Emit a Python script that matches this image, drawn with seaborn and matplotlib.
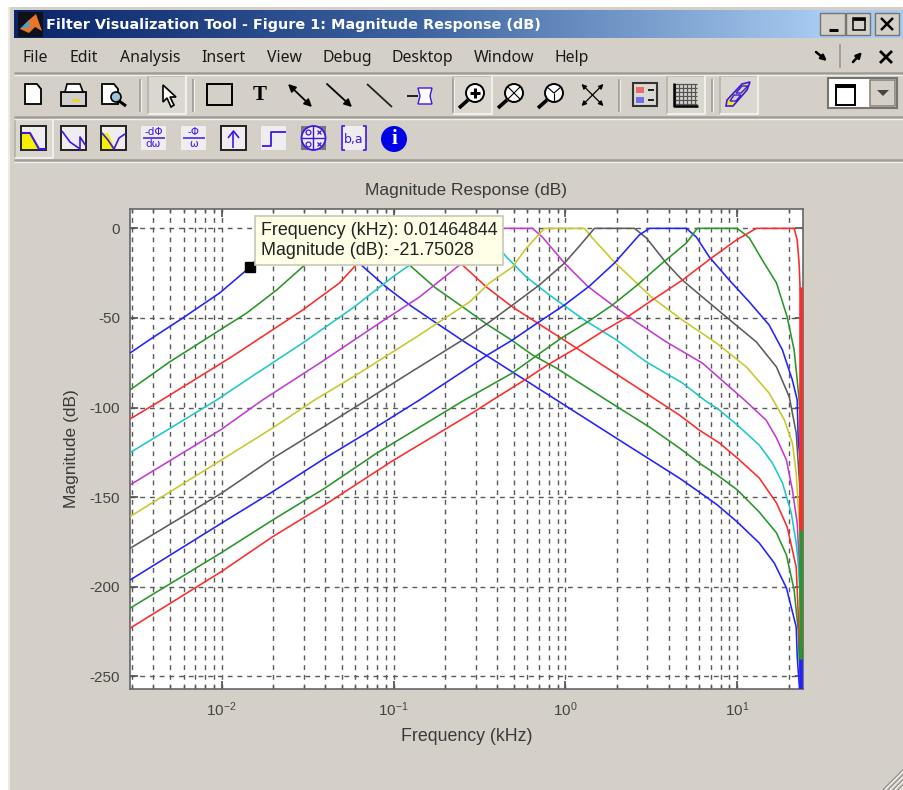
import numpy as np
import pandas as pd
import matplotlib
matplotlib.use('Agg')
import matplotlib.pyplot as plt
import seaborn as sns
from matplotlib.colors import LinearSegmentedColormap
from matplotlib.patches import Rectangle, Polygon, Circle

# values, frequency in kHz, magnitude in dB
band1_f = [0.00293, 0.00397, 0.00593, 0.00973, 0.01397, 0.01465, 0.0178, 0.02355, 0.0392, 0.0425, 0.0519, 0.0649, 0.0907, 0.1268, 0.177, 0.265, 0.352, 0.472, 0.887, 2.06, 4.6, 6.01, 7.65, 10, 13.4, 16.4, 19.3, 22.0, 22.3, 23.0]
band1_db = [-69.6, -61, -50.1, -36.1, -23.3, -21.75, -11, 0, 0, -1.5, -11, -20.5, -32.8, -43.4, -52.8, -64, -71.3, -79.1, -95.8, -118.2, -139.4, -147.2, -154.4, -163.9, -175.6, -186.8, -200.7, -222.5, -239, -257]
band2_f = [0.00293, 0.00499, 0.00935, 0.01397, 0.0209, 0.0304, 0.0381, 0.0472, 0.0786, 0.0851, 0.1014, 0.1239, 0.173, 0.2485, 0.3475, 0.485, 0.643, 0.887, 1.73, 3.08, 4.6, 6.01, 7.65, 10, 13.4, 16.9, 19.3, 21.4, 22.6, 22.9, 23.3]
band2_db = [-90.2, -74.5, -57.9, -47.3, -34.4, -20.5, -10.4, 0, 0, -2, -11, -20.5, -32.8, -43.4, -53.4, -62.3, -70.7, -78, -95.8, -110.9, -122.6, -131, -137.7, -146, -158.3, -170, -182.3, -201.8, -224.2, -240.9, -250]
band3_f = [0.00293, 0.00436, 0.01113, 0.0296, 0.0485, 0.0618, 0.0786, 0.0948, 0.1577, 0.171, 0.203, 0.252, 0.3475, 0.492, 0.687, 0.923, 1.158, 1.64, 3.38, 4.6, 6.01, 7.86, 10, 13.4, 16.9, 19.5, 22.0, 22.6, 22.9, 23.3]
band3_db = [-106.4, -96.5, -72.4, -45.6, -30.5, -19.4, -9.3, 0, 0, -2, -11, -20.5, -32.8, -43.9, -52.8, -60.7, -66.8, -76.3, -95.8, -104.2, -112.6, -119.8, -128.2, -139.3, -153.3, -166.7, -189, -214.7, -229.7, -240]
band4_f = [0.00293, 0.00935, 0.01455, 0.0296, 0.0578, 0.0986, 0.1239, 0.1535, 0.1875, 0.316, 0.343, 0.397, 0.454, 0.593, 0.807, 1.289, 1.98, 2.96, 4.79, 6.43, 7.86, 10, 13.4, 16, 18.3, 20.6, 22, 22.6, 23.3]
band4_db = [-125.2, -95.8, -83.5, -64, -44.5, -27.2, -20.5, -10.4, 0, 0, -2, -9.3, -16, -27.2, -37.2, -51.2, -62.3, -74.6, -86.3, -95.8, -101.4, -109.8, -120.9, -131, -142.1, -158.9, -175.6, -186.8, -210]
band5_f = [0.00293, 0.00996, 0.0173, 0.0372, 0.083, 0.1416, 0.242, 0.3, 0.3664, 0.643, 0.735, 0.987, 1.342, 1.876, 2.587, 3.865, 6.26, 11, 14.7, 16.9, 19.3, 20.9, 22.3, 22.6, 23.3]
band5_db = [-143.2, -112.2, -95.8, -75.2, -52.8, -38.3, -20.5, -10.4, 0, 0, -4.9, -19.4, -32.2, -42.8, -52.3, -63.4, -75.2, -95.8, -107, -117, -129.3, -146, -164.5, -175.6, -195]
band6_f = [0.00293, 0.00996, 0.0198, 0.03475, 0.0634, 0.1416, 0.2767, 0.3614, 0.492, 0.593, 0.755, 1.289, 1.435, 1.927, 3.16, 4.79, 7.55, 11.3, 15.3, 18.8, 20.9, 22, 22.6, 23.3]
band6_db = [-160.9, -129.3, -111.4, -95.8, -80.7, -59.5, -41.1, -30.5, -21.6, -11, 0, 0, -5.4, -18.8, -38.3, -51.2, -64, -77.4, -91.9, -107, -119.8, -136.6, -155.5, -175]
band7_f = [0.00293, 0.00996, 0.0198, 0.038, 0.0697, 0.1239, 0.252, 0.3614, 0.492, 0.706, 0.987, 1.206, 1.475, 2.52, 2.96, 3.865, 4.79, 6.26, 8.63, 12.9, 16.9, 20.05, 22, 22.6, 23.3]
band7_db = [-178.6, -147.9, -128.4, -111.6, -95.8, -80.7, -62.3, -52.3, -42.8, -31.6, -19.4, -9.9, 0, 0, -5.4, -19.4, -28.9, -38.3, -49.5, -63.4, -77.4, -94.1, -114.2, -131, -150]
band8_f = [0.00293, 0.00996, 0.0198, 0.0397, 0.0742, 0.1416, 0.2767, 0.352, 0.492, 0.687, 0.987, 1.38, 1.927, 2.69, 3.08, 5.05, 5.78, 6.87, 8.98, 11.75, 15.3, 18.3, 20.9, 22.3, 22.6, 23.3]
band8_db = [-196.3, -164.6, -147, -128.4, -112.6, -95.8, -77.4, -70.7, -62.3, -52.8, -42.8, -32.2, -19.4, -3.7, 0, 0, -4.9, -16, -28.9, -41.1, -53.9, -67.9, -84.7, -95.8, -118, -131]
band9_f = [0.00293, 0.00996, 0.0198, 0.0397, 0.0794, 0.2587, 0.492, 0.687, 0.948, 1.342, 1.876, 2.62, 3.66, 5.05, 5.85, 10, 11.75, 13.97, 16.9, 19.5, 21.4, 22.9, 23.3]
band9_db = [-212, -181, -162.8, -145.1, -125.6, -95.8, -80.7, -70.7, -61.2, -52.3, -42.8, -31.6, -19.4, -8.2, 0, 0, -5.4, -17.7, -30.5, -49.5, -67.9, -95.8, -110]
band10_f = [0.00293, 0.00996, 0.0198, 0.0397, 0.097, 0.2958, 0.3767, 0.578, 0.785, 1.158, 1.62, 2.29, 3.2, 4.79, 7.06, 9.87, 12.9, 21.4, 22.3, 22.9, 23.2]
band10_db = [-223.2, -191.6, -172.1, -154.4, -130.2, -102.3, -95.8, -84.7, -76.3, -66.8, -57.9, -49.5, -40, -28.9, -16.6, -6.5, 0, 0, -6.5, -20.5, -34.4]

# the steep drop at the top of the band piles up against the right edge
edge_f = [23.6, 23.6, 23.6, 23.6, 23.6, 23.6]
edge_db = [-235, -257, -96, -240, -34, -168]
edge_band = [1, 1, 9, 9, 10, 10]

band_fs = [band1_f, band2_f, band3_f, band4_f, band5_f, band6_f, band7_f, band8_f, band9_f, band10_f]
band_dbs = [band1_db, band2_db, band3_db, band4_db, band5_db, band6_db, band7_db, band8_db, band9_db, band10_db]
colors = ['#2222ff', '#289628', '#ff2a2a', '#1cc8c8', '#c23ad2', '#c8c828', '#5c5c5c', '#2222ff', '#289628', '#ff2a2a']

ytick_vals = [0, -50, -100, -150, -200, -250]
ytick_labels = ['0', '-50', '-100', '-150', '-200', '-250']
menu_items = [('File', 23), ('Edit', 70), ('Analysis', 120), ('Insert', 201), ('View', 267),
              ('Debug', 323), ('Desktop', 392), ('Window', 474), ('Help', 555)]

rows = []
for i in range(10):
    rows.append(pd.DataFrame({'f': band_fs[i], 'db': band_dbs[i], 'band': i + 1}))
df = pd.concat(rows)
edge = pd.DataFrame({'f': edge_f, 'db': edge_db, 'band': edge_band})

sns.set_theme(style='ticks')
plt.rcParams['font.family'] = ['Liberation Sans', 'DejaVu Sans']
plt.rcParams['mathtext.default'] = 'regular'
plt.rcParams['axes.unicode_minus'] = False

BG = '#D4D0C8'
INK = '#3a3a3a'
PURPLE = '#3C18E8'

fig = plt.figure(figsize=(9.04, 7.9), dpi=100, facecolor='white')

# window chrome, drawn in pixel coordinates
ch = fig.add_axes([0, 0, 1, 1], zorder=0)
ch.axis('off')

def rect(x0, y0, x1, y1, fc='none', ec='none', lw=1.0, z=2):
    ch.add_patch(Rectangle((x0, y0), x1 - x0, y1 - y0, facecolor=fc, edgecolor=ec, linewidth=lw, zorder=z))

def line(xs, ys, c='black', lw=1.5, z=3):
    ch.plot(xs, ys, color=c, lw=lw, zorder=z, solid_capstyle='butt')

def poly(pts, fc='none', ec='black', lw=1.0, z=3):
    ch.add_patch(Polygon(pts, closed=True, facecolor=fc, edgecolor=ec, linewidth=lw, zorder=z))

def button(x0, y0, x1, y1):
    rect(x0, y0, x1, y1, fc='#DAD7CF', z=1.5)
    line([x0, x0, x1], [y1, y0, y0], c='#B4B1AA', lw=1.2, z=1.6)
    line([x0, x1, x1], [y1, y1, y0], c='#F6F5F2', lw=1.2, z=1.6)

def glass(cx, cy, kind):
    ch.add_patch(Circle((cx, cy), 9, facecolor='white', edgecolor='black', lw=1.4, zorder=3))
    line([cx - 7, cx - 16], [cy + 7, cy + 15], lw=2.6)
    if kind == 'plus':
        line([cx - 5, cx + 5], [cy, cy], lw=2.2)
        line([cx, cx], [cy - 5, cy + 5], lw=2.2)
    elif kind == 'x':
        line([cx - 6, cx + 6], [cy - 6, cy + 6], lw=0.8)
        line([cx - 6, cx + 6], [cy + 6, cy - 6], lw=0.8)
    else:
        line([cx, cx], [cy, cy + 9], lw=0.8)
        line([cx, cx - 7], [cy, cy - 6], lw=0.8)
        line([cx, cx + 7], [cy, cy - 6], lw=0.8)

def arrow(x0, y0, x1, y1, both=False, size=10, lw=1.3):
    ch.annotate('', xy=(x1, y1), xytext=(x0, y0), zorder=3,
                arrowprops=dict(arrowstyle='<|-|>' if both else '-|>', color='black', lw=lw, mutation_scale=size, shrinkA=0, shrinkB=0))

rect(9, 7, 904, 790, fc=BG, z=0.5)
line([9.5, 9.5], [7, 790], c='#ECEAE5', lw=1.5)
grad = np.linspace(0, 1, 256).reshape(1, -1)
title_cmap = LinearSegmentedColormap.from_list('tb', ['#0A246A', '#3C639F', '#A6CAF0'])
ch.imshow(grad, extent=(14, 820, 38, 10), aspect='auto', cmap=title_cmap, zorder=1)
rect(820, 10, 903, 38, fc='#A6CAF0', z=1)

# title bar logo and caption
rect(18, 12, 43, 37, fc='#101018', z=2)
poly([(20, 29), (29, 20), (36, 14), (42, 31), (35, 27), (29, 33)], fc='#E8762A', ec='none')
poly([(20, 29), (29, 20), (29, 27)], fc='#3FA7D6', ec='none')
ch.text(46, 24.5, 'Filter Visualization Tool - Figure 1: Magnitude Response (dB)', color='white',
        fontsize=10.4, fontweight='bold', family=['DejaVu Sans'], va='center', ha='left', zorder=3)
for x0, x1 in [(820, 845), (846, 870), (875, 899)]:
    rect(x0, 13, x1, 35, fc=BG, ec='#77756f', lw=1, z=2)
line([829, 838], [30, 30], lw=2.2)
rect(853, 18, 865, 30, ec='black', lw=1.1, z=3)
line([853, 865], [19, 19], lw=2)
line([881, 893], [18, 30], lw=1.8)
line([881, 893], [30, 18], lw=1.8)

# menu bar
for name, x in menu_items:
    ch.text(x, 58, name, fontsize=11.4, family=['Noto Sans', 'DejaVu Sans'], color='#1a1a1a', va='center', ha='left', zorder=3)
arrow(816, 52, 827, 61, size=8, lw=1.8)
line([840, 840], [44, 68], c='#9a9890', lw=1.2)
arrow(853, 62, 862, 52, size=8, lw=1.8)
line([880, 892], [51, 63], lw=2)
line([880, 892], [63, 51], lw=2)

# separators between the bars
for y in [73, 117, 160]:
    line([14, 904], [y, y], c='#9E9C96', lw=1.8)
    line([14, 904], [y + 2, y + 2], c='#F2F1EC', lw=1)

# first toolbar
for x in [140, 193, 453, 619, 712]:
    line([x, x], [79, 112], c='#A5A39D', lw=1.4)
    line([x + 1.5, x + 1.5], [79, 112], c='#F2F1EC', lw=0.8)
for box in [(148, 76, 186, 114), (453, 76, 492, 114), (667, 76, 705, 114), (720, 76, 758, 114)]:
    button(*box)
poly([(25, 84), (37, 84), (41, 89), (41, 104), (25, 104)], fc='white', lw=1.3)
rect(61, 92, 86, 106, fc='#CFCFCF', ec='black', lw=1.3, z=3)
poly([(67, 84), (80, 84), (83, 92), (65, 92)], fc='white', lw=1.2, z=4)
rect(72, 99, 80, 102, fc='#E8D820', z=4)
poly([(102, 84), (114, 84), (118, 89), (118, 104), (102, 104)], fc='white', lw=1.3)
ch.add_patch(Circle((116, 97), 5, facecolor='#9CC4D8', edgecolor='black', lw=1.2, zorder=4))
line([119, 126], [101, 106], lw=2.2, z=4)
poly([(163, 85), (163, 102), (167, 98), (171, 107), (174, 105), (170, 97), (176, 97)], fc='white', lw=1.2)
rect(207, 84, 232, 105, fc='none', ec='black', lw=1.4, z=3)
ch.text(260, 95, 'T', fontsize=15, fontweight='bold', family=['Liberation Serif', 'DejaVu Serif'], va='center', ha='center', color='black', zorder=3)
arrow(288, 84, 312, 107, both=True, size=11)
arrow(327, 84, 352, 107, size=11)
line([367, 392], [84, 107], c='#222222', lw=1.3)
line([407, 418], [96, 96], lw=1.2)
poly([(418, 88), (432, 88), (430, 96), (432, 104), (418, 104), (420, 96)], fc='white', ec=PURPLE, lw=1)
glass(475, 93, 'plus')
glass(514, 93, 'x')
glass(554, 93, 'y')
for sx, sy in [(-1, -1), (1, -1), (-1, 1), (1, 1)]:
    arrow(592.5, 95, 592.5 + sx * 11, 95 + sy * 11, size=7, lw=0.9)
rect(633, 83, 657, 106, fc='#DAD8D2', ec='#333333', lw=1.5, z=3)
rect(636, 87, 644, 93, fc='#EE6A70', z=4)
rect(636, 97, 644, 103, fc='#6E6EEE', z=4)
line([648, 654], [90, 90], lw=1.2, z=4)
line([648, 654], [100, 100], lw=1.2, z=4)
for v in np.arange(675, 698, 4):
    line([v, v], [84, 106], c='#555555', lw=0.9)
for v in np.arange(84, 107, 4):
    line([675, 697], [v, v], c='#555555', lw=0.9)
line([674, 674, 698], [83, 106, 106], lw=1.8)
poly([(727, 100), (742, 84), (750, 82), (747, 90), (733, 106), (726, 106)], fc='#F0E81C', ec=PURPLE, lw=1.2)
poly([(734, 95), (741, 95), (736, 101), (730, 101)], fc=BG, ec=PURPLE, lw=1.0, z=4)
poly([(742, 86), (748, 86), (741, 93), (736, 93)], fc=BG, ec=PURPLE, lw=1.0, z=4)
rect(828, 78, 897, 108, fc='white', ec='#77756f', lw=1.5, z=2)
rect(836, 85, 855, 105, fc='white', ec='black', lw=1.4, z=3)
line([836, 855], [86, 86], lw=2.2, z=4)
rect(870, 80, 895, 106, fc=BG, ec='#8a8880', lw=1.2, z=3)
poly([(877, 90), (889, 90), (883, 96)], fc='#444444', ec='none', z=4)

# second toolbar
button(15, 119, 53, 158)
ICON = '#EFEDF0'
for x0 in [21, 61, 101, 221]:
    rect(x0, 126, x0 + 25, 150, fc=ICON, ec='#222222', lw=1.4, z=3)
for x0 in [141, 181, 261, 341]:
    rect(x0, 126, x0 + 25, 150, fc=ICON, z=2.5)
poly([(22, 133), (30, 133), (39, 149), (22, 149)], fc='#F5F000', ec='none', z=4)
line([22, 30, 39, 46], [133, 133, 149, 149], c=PURPLE, lw=1.5, z=5)
line([62, 70, 80, 80, 86], [131, 142, 149, 137, 146], c=PURPLE, lw=1.2, z=5)
poly([(102, 133), (108, 133), (115, 149), (102, 149)], fc='#F5F000', ec='none', z=4)
ch.plot([102, 108, 114, 119, 125], [133, 140, 149, 138, 134], color=PURPLE, lw=1.2, zorder=5)
ch.text(153.5, 132, '-d\u03a6', color=PURPLE, fontsize=7.5, family=['DejaVu Sans'], ha='center', va='center', zorder=5)
line([143, 165], [138, 138], c=PURPLE, lw=1.1, z=5)
ch.text(153.5, 144, 'd\u03c9', color=PURPLE, fontsize=7.5, family=['DejaVu Sans'], ha='center', va='center', zorder=5)
ch.text(193.5, 132, '-\u03a6', color=PURPLE, fontsize=7.5, family=['DejaVu Sans'], ha='center', va='center', zorder=5)
line([183, 205], [138, 138], c=PURPLE, lw=1.1, z=5)
ch.text(193.5, 144, '\u03c9', color=PURPLE, fontsize=7.5, family=['DejaVu Sans'], ha='center', va='center', zorder=5)
line([233.5, 233.5], [132, 148], c=PURPLE, lw=1.2, z=5)
line([228, 233.5, 239], [138, 131, 138], c=PURPLE, lw=1.2, z=5)
line([262, 271, 271, 286], [146, 146, 132, 132], c=PURPLE, lw=1.3, z=5)
rect(301, 126, 326, 150, fc='#777777', z=3)
ch.add_patch(Circle((313.5, 138), 12, facecolor=ICON, edgecolor=PURPLE, lw=1.3, zorder=4))
line([301.5, 325.5], [138, 138], c=PURPLE, lw=1, z=5)
line([313.5, 313.5], [126, 150], c=PURPLE, lw=1, z=5)
for mx, my, mk in [(308, 132, 'o'), (319, 132, 'x'), (308, 144, 'o'), (319, 144, 'x')]:
    ch.plot([mx], [my], marker=mk, color=PURPLE, mfc='none', ms=3.5, mew=0.9, zorder=5)
line([345, 342, 342, 345], [126, 126, 150, 150], c=PURPLE, lw=1.2, z=5)
line([363, 366, 366, 363], [126, 126, 150, 150], c=PURPLE, lw=1.2, z=5)
ch.text(354, 140, 'b,a', color=PURPLE, fontsize=9, family=['DejaVu Sans'], ha='center', va='center', zorder=5)
ch.add_patch(Circle((394, 139), 13, facecolor='#0000E8', edgecolor='none', zorder=4))
ch.text(394, 139, 'i', color='white', fontsize=15, fontweight='bold', family=['Liberation Serif', 'DejaVu Serif'], ha='center', va='center', zorder=5)

# resize grip
for d in [6, 11, 16, 21]:
    line([904 - d, 904], [790, 790 - d], c='#8f8d87', lw=1.1)
    line([904 - d + 1.5, 904], [790, 790 - d + 1.5], c='#F2F1EC', lw=0.8)

ch.set_xlim(0, 904)
ch.set_ylim(790, 0)

# magnitude plot
ax = fig.add_axes([130 / 904, 101 / 790, 672.7 / 904, 480 / 790], zorder=2, facecolor='white')
ax.set_xscale('log')
sns.lineplot(data=df, x='f', y='db', hue='band', palette=colors, estimator=None, sort=False,
             legend=False, linewidth=1.15, ax=ax, zorder=3)
sns.lineplot(data=edge, x='f', y='db', hue='band', palette=[colors[0], colors[8], colors[9]], units='band',
             estimator=None, sort=False, legend=False, linewidth=2.6, ax=ax, zorder=3)

ax.set_xlim(0.00293, 24)
ax.set_ylim(-257.1, 10.8)
ax.set_yticks(ytick_vals)
ax.set_yticklabels(ytick_labels)
ax.grid(True, which='both', axis='x', color='#5a5a5a', linestyle=(0, (3.5, 3.5)), linewidth=1.0)
ax.grid(True, which='major', axis='y', color='#5a5a5a', linestyle=(0, (3.5, 3.5)), linewidth=1.0)
ax.set_axisbelow(True)
ax.tick_params(axis='both', which='both', direction='in', top=True, right=True, colors='#555555', labelcolor='#444444', labelsize=11)
ax.tick_params(axis='x', which='major', length=6, pad=8)
ax.tick_params(axis='x', which='minor', length=3)
ax.tick_params(axis='y', length=6, pad=7)
for s in ax.spines.values():
    s.set_color('#666666')
    s.set_linewidth(1.2)
    s.set_visible(True)

ax.set_title('Magnitude Response (dB)', fontsize=12.5, color=INK, pad=10)
ax.set_xlabel('Frequency (kHz)', fontsize=12.8, color=INK, labelpad=7)
ax.set_ylabel('Magnitude (dB)', fontsize=12.5, color=INK, labelpad=8)

# data tip on the first band
ax.plot([0.01465], [-21.75], marker='s', color='black', markersize=7.5, zorder=6)
ax.annotate('Frequency (kHz): 0.01464844\nMagnitude (dB): -21.75028', xy=(0.01465, -21.75), xytext=(11, 27),
            textcoords='offset pixels', ha='left', va='center', fontsize=12.85, color='#222222', linespacing=1.28,
            bbox=dict(boxstyle='square,pad=0.32', facecolor='#FFFFE8', edgecolor='#C8C8B8', linewidth=1.2), zorder=7)

fig.savefig('out.png', dpi=100)
